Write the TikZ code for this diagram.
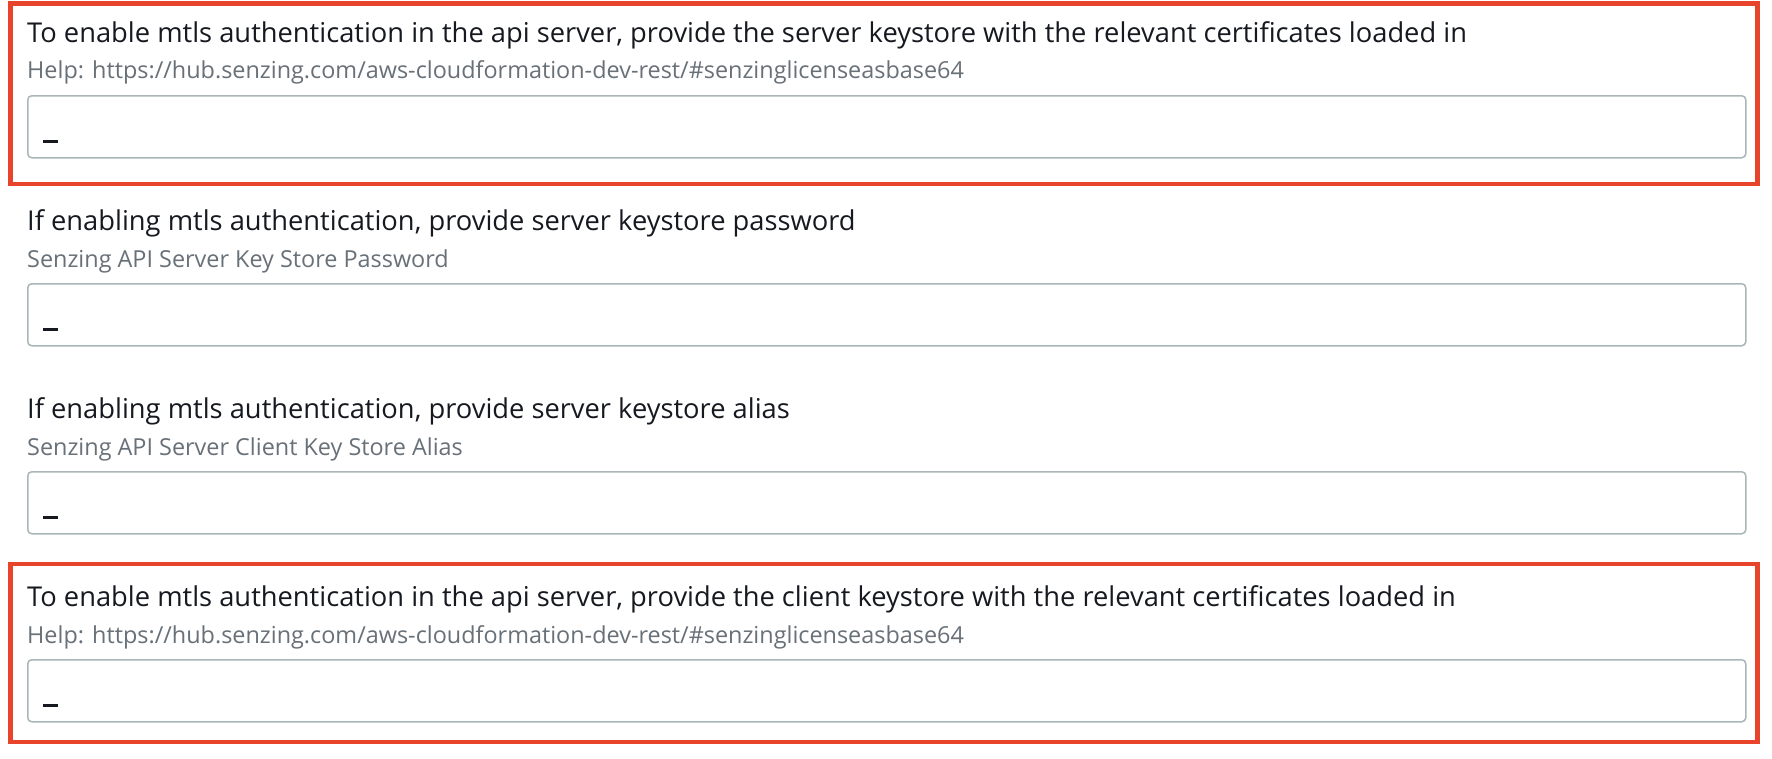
\documentclass[tikz,border=0pt]{standalone}
\usepackage{fontspec}
\setmainfont{Open Sans}
\definecolor{titlegray}{HTML}{16191F}
\definecolor{helpgray}{HTML}{687078}
\definecolor{fieldgray}{HTML}{AAB7B8}
\definecolor{markred}{HTML}{E8442C}
\tikzset{
  label/.style={anchor=base west, inner sep=0pt, text=titlegray, font=\fontsize{27.3}{31}\selectfont},
  help/.style={anchor=base west, inner sep=0pt, text=helpgray, font=\fontsize{23.4}{27}\selectfont},
  field/.style={draw=fieldgray, line width=1.5pt, rounded corners=4pt, anchor=north west, minimum width=1718pt, minimum height=62pt, inner sep=0pt},
  cursor/.style={draw=titlegray, line width=2.2pt},
  highlight/.style={draw=markred, line width=4.5pt}
}
\begin{document}
\begin{tikzpicture}[x=1pt, y=-1pt]
                \useasboundingbox[fill=white] (0,0) rectangle (1772,758);

                \node[label] (T1) at (27,42) {To enable mtls authentication in the api server, provide the server keystore with the relevant certificates loaded in};
                \node[help] (H1) at (27,78) {Help: https://hub.senzing.com/aws-cloudformation-dev-rest/\#senzinglicenseasbase64};
                \node[field] (F1) at (27,95) {};

                \node[label] (T2) at (27,230) {If enabling mtls authentication, provide server keystore password};
                \node[help] (H2) at (27,267) {Senzing API Server Key Store Password};
                \node[field] (F2) at (27,283) {};

                \node[label] (T3) at (27,418) {If enabling mtls authentication, provide server keystore alias};
                \node[help] (H3) at (27,455) {Senzing API Server Client Key Store Alias};
                \node[field] (F3) at (27,471) {};

                \node[label] (T4) at (27,606) {To enable mtls authentication in the api server, provide the client keystore with the relevant certificates loaded in};
                \node[help] (H4) at (27,643) {Help: https://hub.senzing.com/aws-cloudformation-dev-rest/\#senzinglicenseasbase64};
                \node[field] (F4) at (27,659) {};

                % cursors in the empty fields
                \draw[cursor] ([shift={(16,-17)}]F1.south west) -- ++(15,0);
                \draw[cursor] ([shift={(16,-17)}]F2.south west) -- ++(15,0);
                \draw[cursor] ([shift={(16,-17)}]F3.south west) -- ++(15,0);
                \draw[cursor] ([shift={(16,-17)}]F4.south west) -- ++(15,0);

                % red marks
                \draw[highlight] (10.5,3.5) rectangle (1757.5,184);
                \draw[highlight] (10.5,564) rectangle (1757.5,742);
            \end{tikzpicture}
\end{document}
